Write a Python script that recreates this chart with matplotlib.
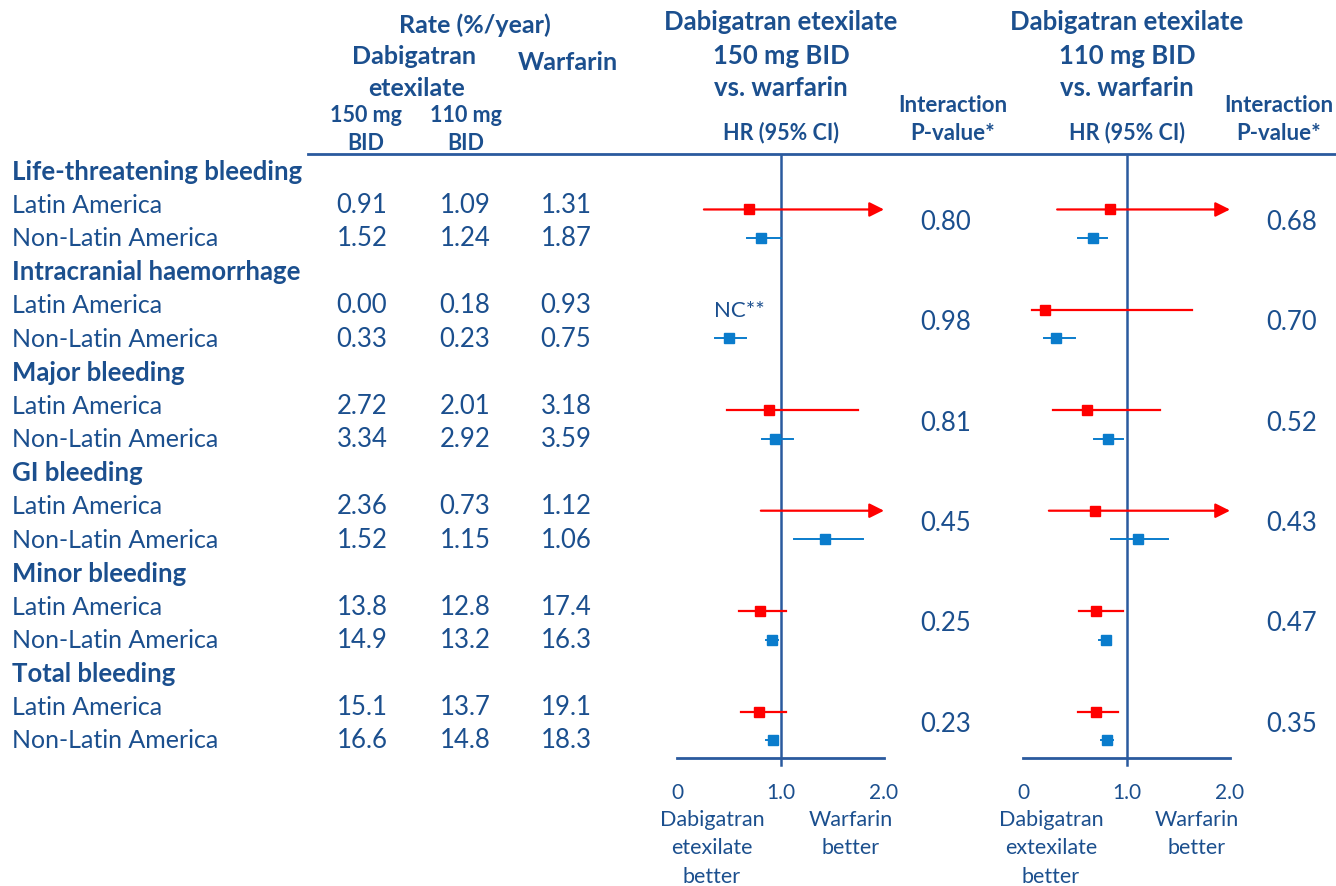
import numpy as np
import matplotlib
matplotlib.use("Agg")
import matplotlib.pyplot as plt

plt.rcParams['font.family'] = ['Lato', 'DejaVu Sans']

# table data
categories = ['Life-threatening bleeding', 'Intracranial haemorrhage', 'Major bleeding',
              'GI bleeding', 'Minor bleeding', 'Total bleeding']
regions = ['Latin America', 'Non-Latin America']
rate_150 = ['0.91', '1.52', '0.00', '0.33', '2.72', '3.34', '2.36', '1.52', '13.8', '14.9', '15.1', '16.6']
rate_110 = ['1.09', '1.24', '0.18', '0.23', '2.01', '2.92', '0.73', '1.15', '12.8', '13.2', '13.7', '14.8']
rate_warf = ['1.31', '1.87', '0.93', '0.75', '3.18', '3.59', '1.12', '1.06', '17.4', '16.3', '19.1', '18.3']

# HR (95% CI); nan = not shown, upper > 2 drawn as arrow
hr_150 = [0.70, 0.81, np.nan, 0.50, 0.89, 0.95, np.nan, 1.43, 0.80, 0.92, 0.79, 0.93]
lo_150 = [0.26, 0.68, np.nan, 0.37, 0.48, 0.82, 0.81, 1.13, 0.60, 0.86, 0.62, 0.86]
hi_150 = [2.5, 1.00, np.nan, 0.67, 1.75, 1.12, 2.5, 1.80, 1.05, 0.98, 1.05, 0.98]
hr_110 = [0.84, 0.68, 0.21, 0.32, 0.62, 0.82, 0.70, 1.11, 0.71, 0.80, 0.71, 0.81]
lo_110 = [0.33, 0.53, 0.09, 0.20, 0.29, 0.69, 0.25, 0.85, 0.54, 0.73, 0.53, 0.75]
hi_110 = [2.5, 0.81, 1.63, 0.50, 1.32, 0.97, 2.5, 1.40, 0.97, 0.85, 0.92, 0.87]
p_150 = ['0.80', '0.98', '0.81', '0.45', '0.25', '0.23']
p_110 = ['0.68', '0.70', '0.52', '0.43', '0.47', '0.35']

navy = '#1b4f8e'
line_c = '#2a5a9e'
blue = '#0a7ccc'
red = '#ff0000'
W, H = 1336, 887

fig = plt.figure(figsize=(W / 100, H / 100), dpi=100)
bg = fig.add_axes([0, 0, 1, 1])
bg.set_xlim(0, W)
bg.set_ylim(H, 0)
bg.axis('off')

row0, step = 172, 33.47


def row_y(k):
    return row0 + step * k


# column headers
hb = dict(color=navy, fontweight='bold', ha='center', va='center')
bg.text(475, 25, 'Rate (%/year)', fontsize=18, **hb)
bg.text(414, 57, 'Dabigatran', fontsize=18, **hb)
bg.text(417, 88, 'etexilate', fontsize=18, **hb)
bg.text(568, 62, 'Warfarin', fontsize=18, **hb)
for cx, lab in [(366, '150 mg'), (466, '110 mg')]:
    bg.text(cx, 115, lab, fontsize=15.5, **hb)
    bg.text(cx, 143, 'BID', fontsize=15.5, **hb)
for cx, dose in [(781, '150 mg BID'), (1127, '110 mg BID')]:
    bg.text(cx, 22, 'Dabigatran etexilate', fontsize=18.5, **hb)
    bg.text(cx, 56, dose, fontsize=18.5, **hb)
    bg.text(cx, 88, 'vs. warfarin', fontsize=18.5, **hb)
    bg.text(cx, 133, 'HR (95% CI)', fontsize=15.5, **hb)
for cx in [953, 1279]:
    bg.text(cx, 105, 'Interaction', fontsize=16, **hb)
    bg.text(cx, 133, 'P-value*', fontsize=16, **hb)
bg.plot([308, W], [155, 155], color=line_c, lw=2)

# rows of the table
k = 0
for i, cat in enumerate(categories):
    bg.text(12, row_y(k), cat, fontsize=18.5, fontweight='bold', color=navy, va='center')
    k += 1
    for j, reg in enumerate(regions):
        r = 2 * i + j
        y = row_y(k)
        bg.text(12, y, reg, fontsize=18, color=navy, va='center')
        for cx, vals in [(362, rate_150), (465, rate_110), (566, rate_warf)]:
            bg.text(cx, y, vals[r], fontsize=18.5, color=navy, ha='center', va='center')
        k += 1
    ymid = (row_y(k - 2) + row_y(k - 1)) / 2
    bg.text(946, ymid, p_150[i], fontsize=18.5, color=navy, ha='center', va='center')
    bg.text(1292, ymid, p_110[i], fontsize=18.5, color=navy, ha='center', va='center')


def forest(x0, hr, lo, hi, nc_label=None):
    ax = fig.add_axes([x0 / W, 1 - 759 / H, 207 / W, (759 - 157) / H])
    ax.set_xlim(0, 2)
    ax.set_ylim(759, 157)
    ax.patch.set_alpha(0)
    for s in ['top', 'left', 'right']:
        ax.spines[s].set_visible(False)
    ax.spines['bottom'].set_color(line_c)
    ax.spines['bottom'].set_linewidth(2)
    ax.set_yticks([])
    ax.set_xticks([0, 1, 2])
    ax.set_xticklabels(['0', '1.0', '2.0'])
    ax.tick_params(axis='x', length=0, pad=17, labelsize=15, labelcolor=navy)
    ax.axvline(1, ymin=-0.012, ymax=1, color=line_c, lw=1.8, clip_on=False)
    for r in range(len(hr)):
        grp, j = divmod(r, 2)
        y = row_y(3 * grp + 1 + j) + (5 if j == 0 else 0)
        col = red if j == 0 else blue
        lw = 1.6 if j == 0 else 1.4
        if np.isnan(lo[r]):
            if nc_label:
                ax.text(0.6, y, nc_label, fontsize=16, color=navy, ha='center', va='center')
            continue
        if hi[r] > 2:
            ax.annotate('', xy=(2.0, y), xytext=(lo[r], y),
                        arrowprops=dict(arrowstyle='-|>', color=col, lw=lw,
                                        mutation_scale=22, shrinkA=0, shrinkB=0))
        else:
            ax.plot([lo[r], hi[r]], [y, y], color=col, lw=lw)
        if not np.isnan(hr[r]):
            ax.plot(hr[r], y, marker='s', ms=7, color=col, mec=col, zorder=3)
    return ax


forest(677, hr_150, lo_150, hi_150, nc_label='NC**')
forest(1023, hr_110, lo_110, hi_110)

# favour labels under the axes
lb = dict(color=navy, fontsize=15.5, ha='center', va='center')
for cx, lines in [(712, ['Dabigatran', 'etexilate', 'better']), (851, ['Warfarin', 'better']),
                  (1051, ['Dabigatran', 'extexilate', 'better']), (1197, ['Warfarin', 'better'])]:
    for n, t in enumerate(lines):
        bg.text(cx, 820 + 28.5 * n, t, **lb)

fig.savefig('out.png', dpi=100)
